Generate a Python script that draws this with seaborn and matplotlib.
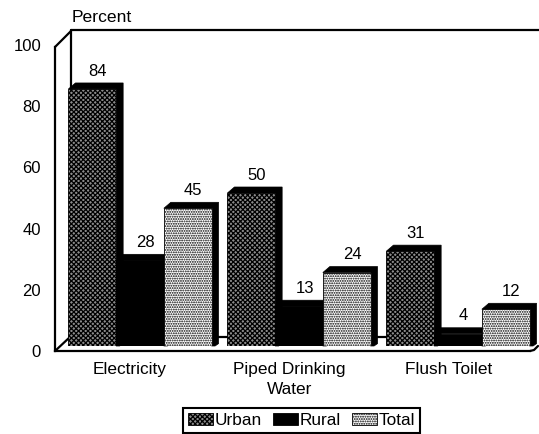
import matplotlib
matplotlib.use("Agg")
import matplotlib.pyplot as plt
import pandas as pd
import seaborn as sns
from matplotlib.patches import Polygon

W, H = 539, 434

categories = ["Electricity", "Piped Drinking\nWater", "Flush Toilet"]
urban = [84, 50, 31]
rural = [28, 13, 4]
total = [45, 24, 12]
series = ["Urban", "Rural", "Total"]
yticks = [0, 20, 40, 60, 80, 100]


def px(x, y):
    # image pixels to figure fraction
    return x / W, 1 - y / H


def ax_box(x0, y0, x1, y1):
    # axes rectangle from pixel corners (y0 is the top)
    return [x0 / W, 1 - y1 / H, (x1 - x0) / W, (y1 - y0) / H]


sns.set_theme(style="white")
plt.rcParams["font.family"] = ["Liberation Sans", "DejaVu Sans"]
plt.rcParams["font.size"] = 12
plt.rcParams["hatch.linewidth"] = 0.9
plt.rcParams["text.color"] = "black"
plt.rcParams["xtick.labelcolor"] = "black"
plt.rcParams["ytick.labelcolor"] = "black"

df = pd.DataFrame({
    "category": categories * 3,
    "series": [s for s in series for _ in categories],
    "value": urban + rural + total,
})

fig = plt.figure(figsize=(W / 100, H / 100), dpi=100)

# frame: front axis, ticks and the back wall outline
frame = fig.add_axes(ax_box(55, 45, 537, 351))
frame.set_ylim(0, 100)
frame.set_xlim((55 - 130) / 159.5, (537 - 130) / 159.5)
frame.set_yticks(yticks)
frame.set_xticks(range(len(categories)))
frame.set_xticklabels(categories, fontsize=12.4, linespacing=1.44)
frame.tick_params(axis="y", length=0, pad=10, labelsize=12)
frame.tick_params(axis="x", length=0, pad=8)
for side in ["top", "right"]:
    frame.spines[side].set_visible(False)
for side in ["left", "bottom"]:
    frame.spines[side].set_linewidth(1.6)
    frame.spines[side].set_color("black")
frame.spines["left"].set_bounds(0, 99.3)
frame.spines["bottom"].set_bounds((55 - 130) / 159.5, (530 - 130) / 159.5)

wall_lines = [
    [(55, 47), (71, 31)],
    [(71, 30), (539, 30)],
    [(71, 30), (71, 90)],
    [(55, 351), (70, 337)],
    [(70, 337), (530, 337)],
    [(530, 351), (534, 350), (538, 346)],
]
for pts in wall_lines:
    xs, ys = zip(*[px(*p) for p in pts])
    frame.plot(xs, ys, color="black", lw=1.6, transform=fig.transFigure,
               clip_on=False, solid_capstyle="round")

# bars on their own transparent axes, baseline a bit above the front axis
ax = fig.add_axes(ax_box(60.5, 40, 537.5, 346))
ax.patch.set_visible(False)
ax.set_zorder(frame.get_zorder() + 1)
sns.barplot(
    data=df, x="category", y="value", hue="series", hue_order=series,
    palette=["#8c8c8c", "black", "white"], width=0.9, gap=0, saturation=1,
    edgecolor="black", linewidth=0.6, legend=False, ax=ax,
)
ax.set_ylim(0, 100)
ax.set_xlim(-0.5, 2.5)
ax.axis("off")

dx = 7 / 159
dy = 6 / 3.06
hatches = {"Urban": "xxxxxxx", "Rural": None, "Total": "......."}
for name, container in zip(series, ax.containers):
    for bar in container:
        bar.set_zorder(3)
        if hatches[name]:
            bar.set_hatch(hatches[name])
        x0, x1 = bar.get_x(), bar.get_x() + bar.get_width()
        h = bar.get_height()
        ax.add_patch(Polygon(
            [(x0, h), (x0 + dx, h + dy), (x1 + dx, h + dy), (x1 + dx, 0.8 * dy / 2),
             (x1 + dx / 2, 0), (x1, 0), (x1, h)],
            closed=True, facecolor="black", edgecolor="black", lw=0.5, zorder=2, clip_on=False,
        ))
        ax.annotate(f"{h:.0f}", (bar.get_x() + bar.get_width() / 2, h),
                    xytext=(4, 7.5), textcoords="offset points",
                    ha="center", va="bottom", fontsize=12, color="black",
                    annotation_clip=False, zorder=5)

x, y = px(72, 17)
fig.text(x, y, "Percent", fontsize=12.6, ha="left", va="center", color="black")

legend = frame.legend(
    [c[0] for c in ax.containers], series, ncol=3,
    loc="center", bbox_to_anchor=px(301.5, 420.5), bbox_transform=fig.transFigure,
    frameon=True, fancybox=False, edgecolor="black", framealpha=1,
    fontsize=12.4, handlelength=1.45, handleheight=0.7, handletextpad=0.12,
    columnspacing=0.62, borderpad=0.3, borderaxespad=0,
)
legend.get_frame().set_linewidth(1.5)

fig.savefig("out.png", dpi=100)
